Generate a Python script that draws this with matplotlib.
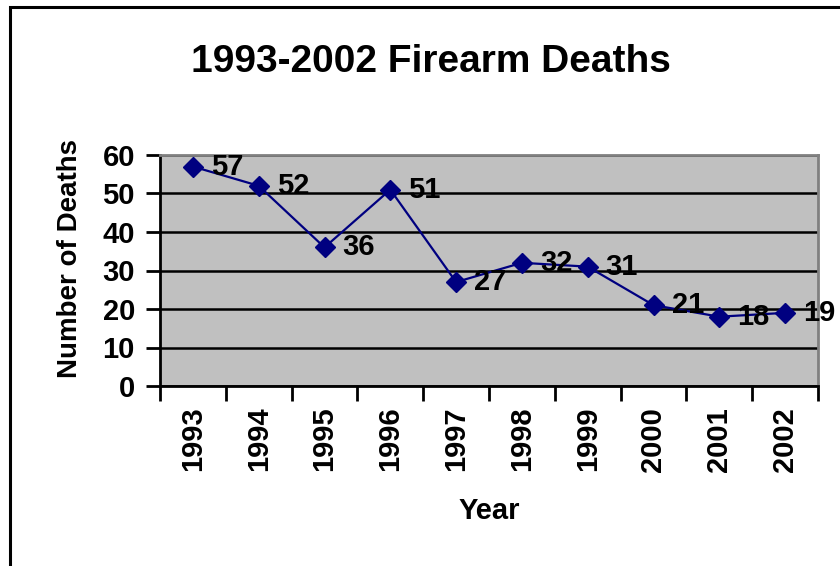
import matplotlib
matplotlib.use("Agg")
import matplotlib.pyplot as plt
from matplotlib.patches import Rectangle

plt.rcParams['font.family'] = ['Liberation Sans', 'DejaVu Sans']

years = ['1993', '1994', '1995', '1996', '1997', '1998', '1999', '2000', '2001', '2002']
deaths = [57, 52, 36, 51, 27, 32, 31, 21, 18, 19]
y_ticks = [0, 10, 20, 30, 40, 50, 60]

W, H = 840, 566
fig = plt.figure(figsize=(W / 100, H / 100), dpi=100)

# outer chart frame (left and top edges visible)
fig.patches.append(Rectangle((9.5 / W, -0.2), 1.2, 1.2 - 6.5 / H,
                             transform=fig.transFigure, fill=False,
                             edgecolor='black', linewidth=2.2, zorder=0))

ax = fig.add_axes([160 / W, 1 - 386 / H, (818 - 160) / W, (386 - 155) / H])
ax.set_facecolor('#C0C0C0')

x = list(range(len(years)))
ax.plot(x, deaths, color='#000080', linewidth=1.6, marker='D',
        markersize=10, markerfacecolor='#000080', markeredgecolor='#000080',
        zorder=3)

for xi, v in zip(x, deaths):
    ax.annotate(str(v), (xi, v), xytext=(13, 0), textcoords='offset points',
                ha='left', va='center', fontsize=21, fontweight='bold',
                color='black', zorder=4, annotation_clip=False)

ax.set_xlim(-0.5, len(years) - 0.5)
ax.set_ylim(0, 60)
ax.set_yticks(y_ticks)
ax.set_yticklabels([str(t) for t in y_ticks], fontsize=21, fontweight='bold')
ax.yaxis.grid(True, color='black', linewidth=1.8)
ax.set_axisbelow(True)

# category boundaries carry the tick marks, labels sit at the centers
ax.set_xticks([i - 0.5 for i in range(len(years) + 1)])
ax.set_xticklabels([])
ax.set_xticks(x, minor=True)
ax.set_xticklabels(years, minor=True, rotation=90, fontsize=21,
                   fontweight='bold', va='top')
ax.tick_params(axis='x', which='major', length=11, width=2, direction='out')
ax.tick_params(axis='x', which='minor', length=0, pad=15)
ax.tick_params(axis='y', length=10, width=2, direction='out', pad=8)

for side in ('left', 'bottom'):
    ax.spines[side].set_color('black')
    ax.spines[side].set_linewidth(2)
for side in ('top', 'right'):
    ax.spines[side].set_color('#808080')
    ax.spines[side].set_linewidth(2)

fig.text(431 / W, 1 - 62 / H, '1993-2002 Firearm Deaths', ha='center',
         va='center', fontsize=28, fontweight='bold')
fig.text(70 / W, 1 - 258 / H, 'Number of Deaths', ha='center', va='center',
         rotation=90, fontsize=20, fontweight='bold')
fig.text(489 / W, 1 - 511 / H, 'Year', ha='center', va='center',
         fontsize=21, fontweight='bold')

fig.savefig('out.png', dpi=100)
